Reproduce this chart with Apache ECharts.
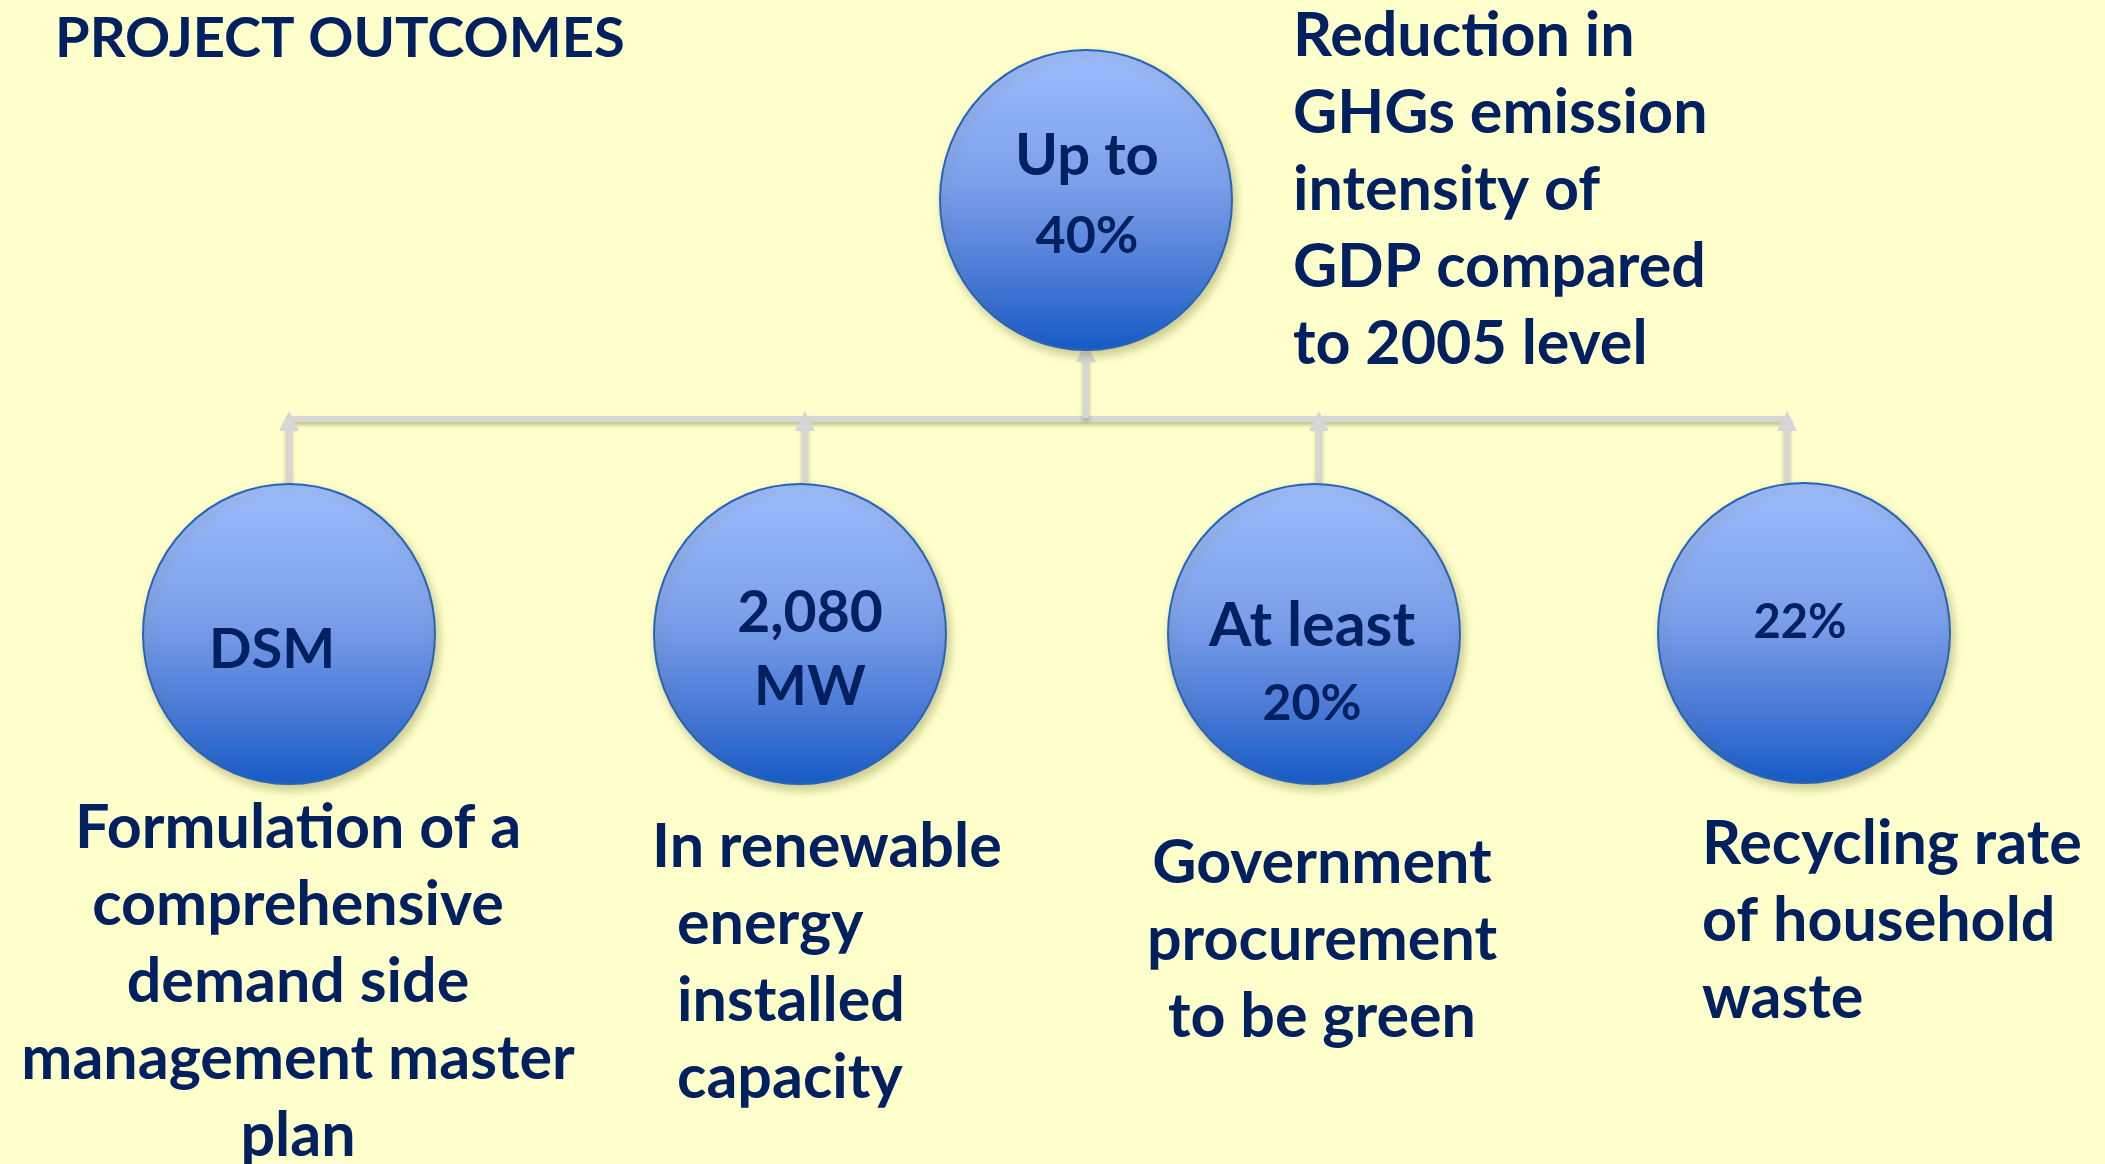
<!DOCTYPE html>
<html>
<head>
<meta charset="utf-8">
<script src="https://cdn.jsdelivr.net/npm/echarts@6/dist/echarts.min.js"></script>
<style>
html, body { margin: 0; padding: 0; background: #ffffcc; }
#canvas_outcomes { width: 2105px; height: 1164px; }
</style>
</head>
<body>
<div id="canvas_outcomes"></div>
<script>
var chart_title = 'PROJECT OUTCOMES';

// goal shown in the top circle, then the four outcomes below it
var goal_value = ['Up to', '40%'];
var goal_note = ['Reduction in', 'GHGs emission', 'intensity of', 'GDP compared', 'to 2005 level'];

var outcome_values = [
    ['DSM'],
    ['2,080', 'MW'],
    ['At least', '20%'],
    ['22%']
];
var outcome_notes = [
    ['Formulation of a', 'comprehensive', 'demand side', 'management master', 'plan'],
    ['In renewable', 'energy', 'installed', 'capacity'],
    ['Government', 'procurement', 'to be green'],
    ['Recycling rate', 'of household', 'waste']
];

// layout (pixel coords, the hidden axes map 1:1 onto the page)
var goal_pos = [1086, 200];
var outcome_pos = [[289, 634], [800, 634], [1314, 634], [1804, 633]];
var arrow_x = [289, 805, 1319, 1787];
var bus_y = 419;
var circle_size = [292, 300];

// per circle: label offset, font size of each line, line height
var value_style = [
    { offset: [1, -4], sizes: [58, 52], lh: 80 },
    { offset: [-17, 16], sizes: [56], lh: 60 },
    { offset: [10, 16], sizes: [57, 56], lh: 73 },
    { offset: [-2, 31], sizes: [61, 50], lh: 78 },
    { offset: [-4, -10], sizes: [47], lh: 60 }
];
// per note: anchor point, alignment, indent of following lines
var note_layout = [
    { pos: [1293, 190], align: 'left', indent: 0 },
    { pos: [298, 982], align: 'center', indent: 0 },
    { pos: [652, 963], align: 'left', indent: 25 },
    { pos: [1322, 940], align: 'center', indent: 0 },
    { pos: [1702, 921], align: 'left', indent: 0 }
];
var note_size = 61;
var note_line = 77;

var text_color = '#002060';
var line_color = '#d6d6d6';
var font_name = 'Lato';

var circle_fill = new echarts.graphic.LinearGradient(0, 0, 0, 1, [
    { offset: 0, color: '#9cbcfd' },
    { offset: 0.45, color: '#7c9fea' },
    { offset: 0.75, color: '#4a7ad6' },
    { offset: 1, color: '#165bc6' }
]);

function text_style(size, lh, extra) {
    var s = { fontSize: size, lineHeight: lh, fontWeight: 'bold', fontFamily: font_name, color: text_color };
    for (var key in extra) s[key] = extra[key];
    return s;
}

var all_values = [goal_value].concat(outcome_values);
var all_notes = [goal_note].concat(outcome_notes);
var all_pos = [goal_pos].concat(outcome_pos);

var circle_data = [];
for (var i = 0; i < all_values.length; i++) {
    var st = value_style[i];
    var rich = {};
    var lines = [];
    for (var k = 0; k < all_values[i].length; k++) {
        rich['v' + k] = text_style(st.sizes[k], st.lh);
        lines.push('{v' + k + '|' + all_values[i][k] + '}');
    }
    circle_data.push({
        value: all_pos[i],
        label: {
            offset: st.offset,
            formatter: lines.join('\n'),
            rich: rich
        }
    });
}

var note_data = [];
for (var i = 0; i < all_notes.length; i++) {
    var nl = note_layout[i];
    var lines = [];
    for (var k = 0; k < all_notes[i].length; k++) {
        if (k > 0 && nl.indent > 0)
            lines.push('{ind|' + all_notes[i][k] + '}');
        else
            lines.push('{n|' + all_notes[i][k] + '}');
    }
    note_data.push({
        value: nl.pos,
        label: {
            align: nl.align,
            formatter: lines.join('\n'),
            rich: {
                n: text_style(note_size, note_line),
                ind: text_style(note_size, note_line, { padding: [0, 0, 0, nl.indent] })
            }
        }
    });
}

var arrow_data = [];
for (var i = 0; i < arrow_x.length; i++) {
    arrow_data.push({ coords: [[arrow_x[i], 484], [arrow_x[i], bus_y + 2]] });
}
arrow_data.push({ coords: [[goal_pos[0], bus_y - 1], [goal_pos[0], 352]] });

var line_shadow = {
    shadowColor: 'rgba(110, 110, 40, 0.45)',
    shadowBlur: 4,
    shadowOffsetY: 3
};

var option_outcomes = {
    animation: false,
    backgroundColor: '#ffffcc',
    title: {
        text: chart_title,
        left: 50,
        top: 6,
        textStyle: {
            fontFamily: font_name,
            fontWeight: 'bold',
            fontSize: 56,
            color: text_color
        }
    },
    grid: { left: 0, right: 0, top: 0, bottom: 0 },
    xAxis: { type: 'value', min: 0, max: 2105, show: false },
    yAxis: { type: 'value', min: 0, max: 1164, inverse: true, show: false },
    series: [
        {
            name: 'bus',
            type: 'lines',
            coordinateSystem: 'cartesian2d',
            z: 1,
            symbol: 'none',
            lineStyle: Object.assign({ color: line_color, width: 6, opacity: 1, curveness: 0 }, line_shadow),
            data: [{ coords: [[arrow_x[0] - 3, bus_y], [arrow_x[arrow_x.length - 1] + 3, bus_y]] }]
        },
        {
            name: 'arrows',
            type: 'lines',
            coordinateSystem: 'cartesian2d',
            z: 2,
            symbol: ['none', 'triangle'],
            symbolSize: 20,
            itemStyle: { color: line_color },
            lineStyle: Object.assign({ color: line_color, width: 6, opacity: 1, curveness: 0 }, line_shadow),
            data: arrow_data
        },
        {
            name: 'circles',
            type: 'scatter',
            z: 3,
            symbol: 'circle',
            symbolSize: circle_size,
            itemStyle: {
                color: circle_fill,
                opacity: 1,
                borderColor: '#2763b9',
                borderWidth: 2,
                shadowColor: 'rgba(120, 120, 50, 0.4)',
                shadowBlur: 10,
                shadowOffsetX: 3,
                shadowOffsetY: 5
            },
            label: {
                show: true,
                position: 'inside'
            },
            emphasis: { disabled: true },
            data: circle_data
        },
        {
            name: 'notes',
            type: 'scatter',
            z: 4,
            symbolSize: 2,
            itemStyle: { color: 'rgba(0,0,0,0)', opacity: 1 },
            label: {
                show: true,
                position: 'inside',
                verticalAlign: 'middle'
            },
            emphasis: { disabled: true },
            data: note_data
        }
    ]
};

var echarts_outcomes = echarts.init(document.getElementById('canvas_outcomes'));
echarts_outcomes.setOption(option_outcomes);
</script>
</body>
</html>
